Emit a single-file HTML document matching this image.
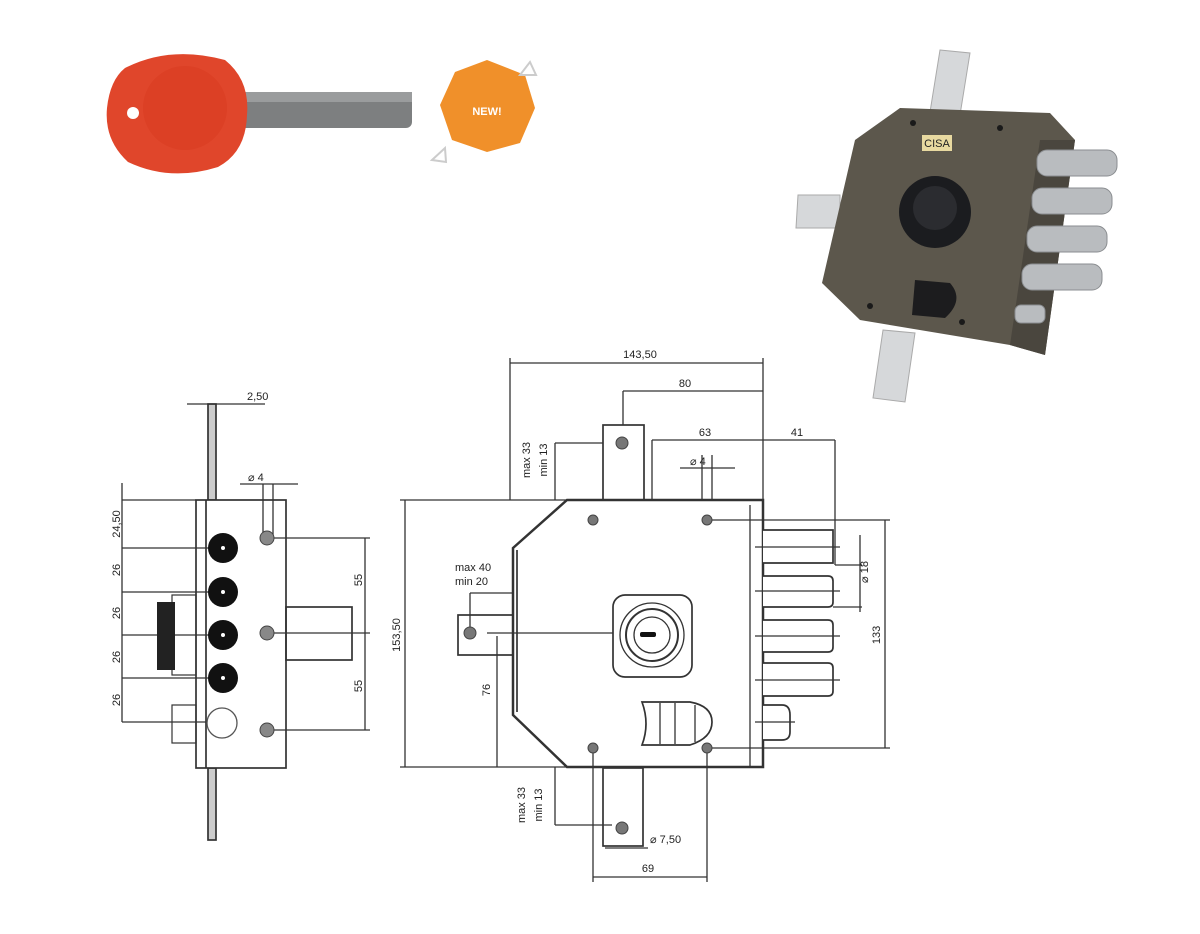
<!DOCTYPE html>
<html><head><meta charset="utf-8"><style>
html,body{margin:0;padding:0;background:#fff;}
svg{display:block}
text{font-family:"Liberation Sans",sans-serif;fill:#222;font-size:11px}
</style></head><body>
<svg width="1200" height="934" viewBox="0 0 1200 934" xmlns="http://www.w3.org/2000/svg">
<rect width="1200" height="934" fill="#fff"/>
<!-- KEY -->
<rect x="236" y="92" width="176" height="36" rx="6" fill="#7d7f80"/>
<rect x="236" y="92" width="176" height="10" fill="#9a9c9d"/>
<path d="M125 68 Q170 45 225 60 Q250 80 247 115 Q246 152 218 167 Q170 182 128 162 Q104 140 107 108 Q110 80 125 68Z" fill="#e0462b"/>
<circle cx="185" cy="108" r="42" fill="#d83c22" opacity="0.6"/>
<circle cx="133" cy="113" r="6" fill="#fff"/>
<!-- NEW badge -->
<polygon points="487,60 525,75 535,108 520,143 487,152 452,140 440,105 455,72" fill="#f0902a"/>
<text x="487" y="115" font-size="19" font-weight="bold" text-anchor="middle" style="fill:#fff">NEW!</text>
<polygon points="520,75 530,62 536,75" fill="none" stroke="#ccc" stroke-width="2"/>
<polygon points="432,160 445,148 446,162" fill="none" stroke="#ccc" stroke-width="2"/>
<!-- PHOTO LOCK -->
<polygon points="940,50 970,53 960,115 930,112" fill="#d6d8da" stroke="#aaa"/>
<polygon points="798,195 840,195 840,228 796,228" fill="#d6d8da" stroke="#aaa"/>
<polygon points="883,330 915,333 905,402 873,398" fill="#d6d8da" stroke="#aaa"/>
<polygon points="855,140 900,108 1050,113 1075,140 1045,355 1010,345 860,320 822,283" fill="#5c574c"/>
<polygon points="1040,140 1075,140 1045,355 1010,345" fill="#4a463e"/>
<rect x="922" y="135" width="30" height="16" fill="#e8d9a0"/>
<text x="937" y="147" font-size="7" text-anchor="middle">CISA</text>
<circle cx="935" cy="212" r="36" fill="#1b1c1f"/>
<circle cx="935" cy="208" r="22" fill="#2b2c30"/>
<path d="M915 280 L950 283 Q965 300 945 318 L912 315Z" fill="#1c1c1e"/>
<g fill="#b9bcbf" stroke="#8a8d90">
<rect x="1037" y="150" width="80" height="26" rx="10"/>
<rect x="1032" y="188" width="80" height="26" rx="10"/>
<rect x="1027" y="226" width="80" height="26" rx="10"/>
<rect x="1022" y="264" width="80" height="26" rx="10"/>
<rect x="1015" y="305" width="30" height="18" rx="6"/>
</g>
<g fill="#1a1a1a"><circle cx="913" cy="123" r="3"/><circle cx="1000" cy="128" r="3"/><circle cx="870" cy="306" r="3"/><circle cx="962" cy="322" r="3"/></g>

<!-- SIDE VIEW -->
<g stroke="#333" fill="none" stroke-width="1.7">
<rect x="208" y="404" width="8" height="96" fill="#ccc"/>
<rect x="208" y="768" width="8" height="72" fill="#ccc"/>
<rect x="196" y="500" width="90" height="268" fill="#fff"/>
<line x1="206" y1="500" x2="206" y2="768"/>
<line x1="187" y1="404" x2="265" y2="404" stroke-width="1.3"/>
<line x1="240" y1="484" x2="298" y2="484" stroke-width="1.3"/>
<path d="M263 484 V538 M273 484 V538" stroke-width="1.3"/>
<rect x="286" y="607" width="66" height="53"/>
<rect x="172" y="595" width="24" height="80" stroke-width="1.2"/>
<rect x="172" y="705" width="24" height="38" stroke-width="1.2"/>
<g stroke-width="1.3">
<line x1="122" y1="483" x2="122" y2="722"/>
<line x1="122" y1="500" x2="196" y2="500"/>
<line x1="122" y1="548" x2="210" y2="548"/>
<line x1="122" y1="592" x2="210" y2="592"/>
<line x1="122" y1="635" x2="210" y2="635"/>
<line x1="122" y1="678" x2="210" y2="678"/>
<line x1="122" y1="722" x2="210" y2="722"/>
<line x1="365" y1="538" x2="365" y2="730"/>
<line x1="267" y1="538" x2="370" y2="538"/>
<line x1="267" y1="633" x2="370" y2="633"/>
<line x1="267" y1="730" x2="370" y2="730"/>
</g>
</g>
<rect x="157" y="602" width="18" height="68" fill="#222"/>
<g fill="#111"><circle cx="223" cy="548" r="15"/><circle cx="223" cy="592" r="15"/><circle cx="223" cy="635" r="15"/><circle cx="223" cy="678" r="15"/></g>
<g fill="#fff"><circle cx="223" cy="548" r="2"/><circle cx="223" cy="592" r="2"/><circle cx="223" cy="635" r="2"/><circle cx="223" cy="678" r="2"/></g>
<circle cx="222" cy="723" r="15" fill="#fff" stroke="#555" stroke-width="1.3"/>
<g fill="#888" stroke="#444"><circle cx="267" cy="538" r="7"/><circle cx="267" cy="633" r="7"/><circle cx="267" cy="730" r="7"/></g>
<text x="247" y="400">2,50</text>
<text x="248" y="481">⌀ 4</text>
<g font-size="11">
<text transform="translate(120,524) rotate(-90)" text-anchor="middle">24,50</text>
<text transform="translate(120,570) rotate(-90)" text-anchor="middle">26</text>
<text transform="translate(120,613) rotate(-90)" text-anchor="middle">26</text>
<text transform="translate(120,657) rotate(-90)" text-anchor="middle">26</text>
<text transform="translate(120,700) rotate(-90)" text-anchor="middle">26</text>
<text transform="translate(362,580) rotate(-90)" text-anchor="middle">55</text>
<text transform="translate(362,686) rotate(-90)" text-anchor="middle">55</text>
</g>

<!-- MAIN FRONT VIEW -->
<g stroke="#333" fill="none" stroke-width="1.3">
<line x1="510" y1="363" x2="763" y2="363"/>
<line x1="510" y1="358" x2="510" y2="500"/>
<line x1="763" y1="358" x2="763" y2="500"/>
<line x1="623" y1="391" x2="763" y2="391"/>
<line x1="623" y1="391" x2="623" y2="443"/>
<line x1="652" y1="440" x2="835" y2="440"/>
<line x1="652" y1="440" x2="652" y2="633"/>
<line x1="835" y1="440" x2="835" y2="565"/>
<line x1="555" y1="443" x2="603" y2="443"/>
<line x1="555" y1="443" x2="555" y2="500"/>
<line x1="680" y1="468" x2="735" y2="468"/>
<path d="M702 455 V520 M712 455 V520"/>
<rect x="603" y="425" width="41" height="75" stroke-width="1.7" fill="#fff"/>
<rect x="458" y="615" width="55" height="40" stroke-width="1.7" fill="#fff"/>
<rect x="603" y="768" width="40" height="78" stroke-width="1.7" fill="#fff"/>
<polygon points="567,500 763,500 763,767 567,767 513,715 513,548" stroke-width="2.5" fill="#fff"/>
<line x1="517" y1="550" x2="517" y2="712" stroke-width="1.7"/>
<line x1="750" y1="505" x2="750" y2="767"/>
<line x1="400" y1="500" x2="567" y2="500"/>
<line x1="400" y1="767" x2="567" y2="767"/>
<line x1="405" y1="500" x2="405" y2="767"/>
<line x1="470" y1="593" x2="513" y2="593"/>
<line x1="470" y1="593" x2="470" y2="633"/>
<line x1="487" y1="633" x2="652" y2="633"/>
<line x1="497" y1="636" x2="497" y2="767"/>
<g stroke-width="1.7" fill="#fff">
<path d="M763 530 H833 V563 H763"/>
<path d="M763 576 H828 Q833 576 833 581 V602 Q833 607 828 607 H763"/>
<path d="M763 620 H828 Q833 620 833 625 V647 Q833 652 828 652 H763"/>
<path d="M763 663 H828 Q833 663 833 668 V691 Q833 696 828 696 H763"/>
<path d="M763 705 H782 Q790 705 790 715 V732 Q790 740 782 740 H763"/>
</g>
<path d="M755 547 H840 M755 591 H840 M755 636 H840 M755 680 H840 M755 722 H795"/>
<line x1="712" y1="520" x2="890" y2="520"/>
<line x1="712" y1="748" x2="890" y2="748"/>
<line x1="885" y1="520" x2="885" y2="748"/>
<path d="M835 565 H862 M833 607 H862 M860 535 V612"/>
<rect x="613" y="595" width="79" height="82" rx="12" stroke-width="1.7" fill="#fff"/>
<circle cx="652" cy="635" r="32"/>
<circle cx="652" cy="635" r="26" stroke-width="2"/>
<circle cx="652" cy="635" r="18"/>
<path d="M642 702 H690 Q712 706 712 722 Q712 738 690 745 H642 Q650 724 642 702Z" stroke-width="1.7" fill="#fff"/>
<path d="M660 703 V744 M675 703 V744 M695 705 V742"/>
<line x1="593" y1="748" x2="593" y2="882"/>
<line x1="707" y1="748" x2="707" y2="882"/>
<line x1="593" y1="877" x2="707" y2="877"/>
<line x1="555" y1="767" x2="555" y2="825"/>
<line x1="555" y1="825" x2="612" y2="825"/>
<line x1="605" y1="848" x2="648" y2="848"/>
</g>
<g fill="#777" stroke="#444">
<circle cx="622" cy="443" r="6"/><circle cx="470" cy="633" r="6"/><circle cx="622" cy="828" r="6"/>
<circle cx="593" cy="520" r="5"/><circle cx="707" cy="520" r="5"/><circle cx="593" cy="748" r="5"/><circle cx="707" cy="748" r="5"/>
</g>
<rect x="640" y="632" width="16" height="5" rx="2" fill="#111"/>
<text x="640" y="358" text-anchor="middle">143,50</text>
<text x="685" y="387" text-anchor="middle">80</text>
<text x="705" y="436" text-anchor="middle">63</text>
<text x="797" y="436" text-anchor="middle">41</text>
<text x="690" y="465">⌀ 4</text>
<text x="455" y="571">max 40</text>
<text x="455" y="585">min 20</text>
<text x="650" y="843">⌀ 7,50</text>
<text x="648" y="872" text-anchor="middle">69</text>
<text transform="translate(530,460) rotate(-90)" text-anchor="middle">max 33</text>
<text transform="translate(547,460) rotate(-90)" text-anchor="middle">min 13</text>
<text transform="translate(525,805) rotate(-90)" text-anchor="middle">max 33</text>
<text transform="translate(542,805) rotate(-90)" text-anchor="middle">min 13</text>
<text transform="translate(400,635) rotate(-90)" text-anchor="middle">153,50</text>
<text transform="translate(490,690) rotate(-90)" text-anchor="middle">76</text>
<text transform="translate(868,572) rotate(-90)" text-anchor="middle">⌀ 18</text>
<text transform="translate(880,635) rotate(-90)" text-anchor="middle">133</text>
</svg>
</body></html>
